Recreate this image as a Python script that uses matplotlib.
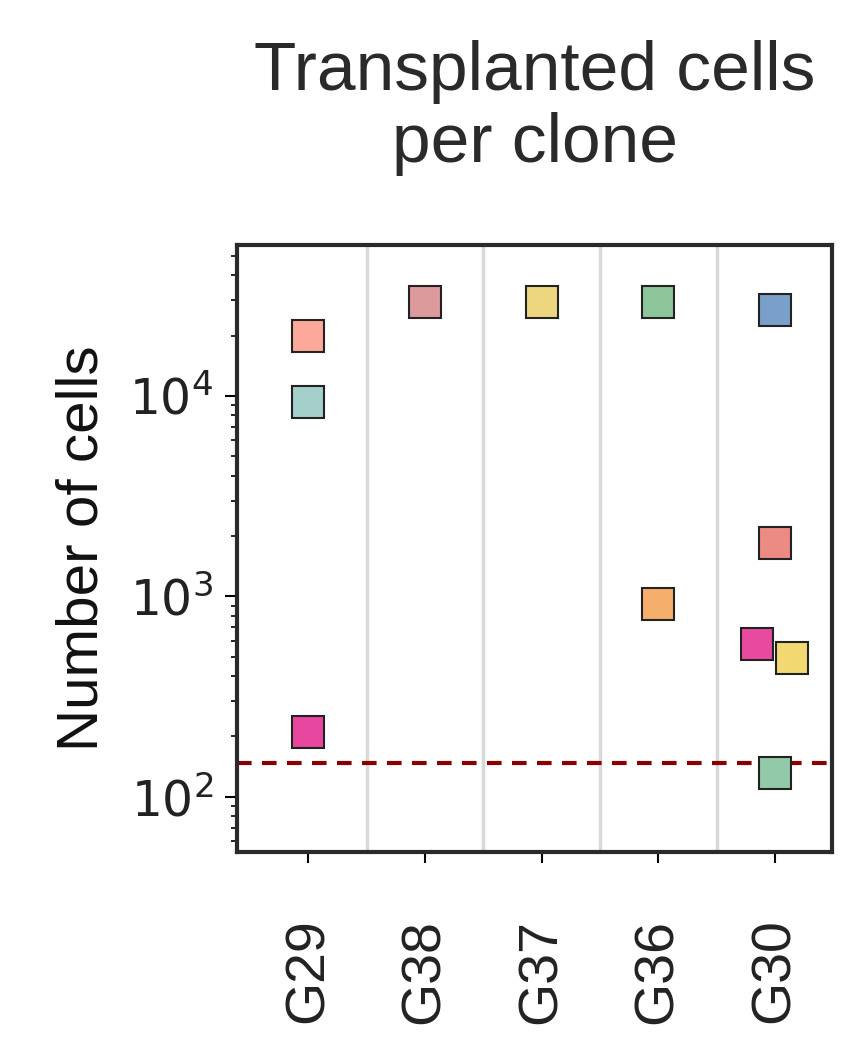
import matplotlib

matplotlib.use("Agg")
import matplotlib.pyplot as plt
from matplotlib.ticker import LogLocator, NullFormatter

plt.rcParams["font.family"] = "Liberation Sans"

groups = ["G29", "G38", "G37", "G36", "G30"]
# (group index, offset within group, cells, colour)
point_group = [0, 0, 0, 1, 2, 3, 3, 4, 4, 4, 4, 4]
point_offset = [0, 0, 0, 0, 0, 0, 0, 0, 0, -0.15, 0.15, 0]
point_cells = [20000, 9300, 211, 29500, 29500, 29500, 920, 27000, 1850, 575, 490, 132]
point_color = ["#FCA89A", "#A5CFCB", "#E8479F", "#DC9A9C", "#EDD77E", "#8EC49A",
               "#F5AE6C", "#7A9FC8", "#EC8A84", "#E84A9F", "#F2D870", "#92C9A8"]
threshold = 148

fig = plt.figure(figsize=(8.56, 10.61), dpi=100)
ax = fig.add_axes([0.277, 0.197, 0.695, 0.572])

for sep in range(len(groups) - 1):
    ax.axvline(sep + 0.5, color="#D9D9D9", lw=2.5, zorder=0)
ax.axhline(threshold, color="#8B0000", lw=3, ls=(0, (3.5, 2.5)), zorder=1)

for g, off, c, col in zip(point_group, point_offset, point_cells, point_color):
    ax.plot(g + off, c, marker="s", ms=23, mfc=col, mec="#222222", mew=1.5, zorder=3)

ax.set_yscale("log")
ax.set_ylim(53, 56600)
ax.set_xlim(-0.61, 4.49)
ax.set_xticks(range(len(groups)))
ax.set_xticklabels(groups, rotation=90, fontsize=40, color="#222222")
ax.set_yticks([100, 1000, 10000])
ax.set_yticklabels(["$10^2$", "$10^3$", "$10^4$"], fontsize=35, color="#222222")
ax.yaxis.set_minor_locator(LogLocator(base=10, subs=range(2, 10)))
ax.yaxis.set_minor_formatter(NullFormatter())
ax.tick_params(axis="y", which="major", length=9, width=1.5, pad=8)
ax.tick_params(axis="y", which="minor", length=4, width=1.2)
ax.tick_params(axis="x", length=8, width=1.5, pad=40)
for lbl in ax.get_xticklabels():
    lbl.set_verticalalignment("top")
for s in ax.spines.values():
    s.set_linewidth(3)
    s.set_color("#2a2a2a")

ax.set_ylabel("Number of cells", fontsize=42, color="#111111", labelpad=14)
ax.set_title("Transplanted cells\nper clone", fontsize=50, color="#2a2a2a", pad=60, linespacing=1.15)

fig.savefig("out.png", dpi=100)
